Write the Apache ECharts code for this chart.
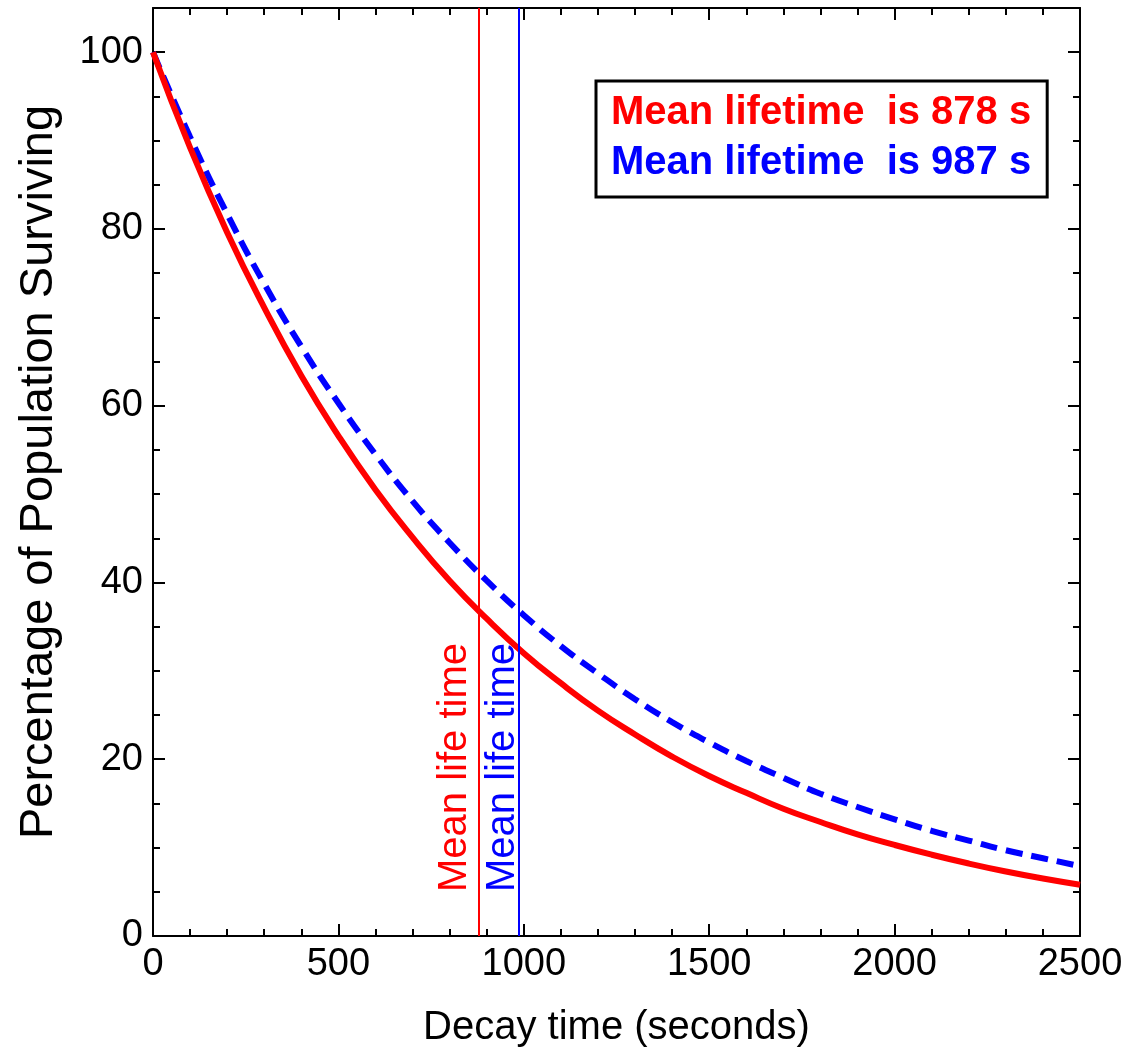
<!DOCTYPE html>
<html>
<head>
<meta charset="utf-8">
<script src="https://cdn.jsdelivr.net/npm/echarts@6/dist/echarts.min.js"></script>
<style>
  html, body { margin: 0; padding: 0; background: #fff; }
  #chart { width: 1131px; height: 1053px; }
</style>
</head>
<body>
<div id="chart"></div>
<script>
const times = [0, 100, 200, 300, 400, 500, 600, 700, 800, 900, 1000, 1100, 1200,
    1300, 1400, 1500, 1600, 1700, 1800, 1900, 2000, 2100, 2200, 2300, 2400, 2500];

// percentage surviving, red curve (mean lifetime 878 s)
const redSurviving = [100, 89.2, 79.6, 71.1, 63.4, 56.6, 50.5, 45.1, 40.2, 35.9, 32.0, 28.6, 25.5,
    22.8, 20.3, 18.1, 16.2, 14.4, 12.9, 11.5, 10.3, 9.2, 8.2, 7.3, 6.5, 5.8];

// percentage surviving, blue dashed curve (mean lifetime 987 s)
const blueSurviving = [100, 90.4, 81.7, 73.8, 66.7, 60.3, 54.5, 49.2, 44.5, 40.2, 36.3, 32.8, 29.7,
    26.8, 24.2, 21.9, 19.8, 17.9, 16.1, 14.6, 13.2, 11.9, 10.8, 9.7, 8.8, 7.9];

const redLifetime = 878;
const blueLifetime = 987;
const redName = 'Mean lifetime  is 878 s';
const blueName = 'Mean lifetime  is 987 s';

const fontFamily = '"Liberation Sans", Arial, Helvetica, sans-serif';
const RED = '#ff0000';
const BLUE = '#0000ff';

function pairs(xs, ys) {
    return xs.map((x, i) => [x, ys[i]]);
}

const chart = echarts.init(document.getElementById('chart'));

const frameAxis = {
    axisLine: { show: true, onZero: false, lineStyle: { color: '#000', width: 2 } },
    splitLine: { show: false }
};

const option = {
    animation: false,
    backgroundColor: '#fff',
    textStyle: { fontFamily: fontFamily },
    grid: { left: 153, right: 51, top: 8, bottom: 116 },
    legend: {
        left: 596,
        top: 81,
        orient: 'vertical',
        icon: 'none',
        itemWidth: 0,
        itemHeight: 36,
        itemGap: 10,
        padding: [12, 16, 14, 10],
        borderColor: '#000',
        borderWidth: 3,
        backgroundColor: '#fff',
        selectedMode: false,
        textStyle: { fontSize: 40, fontWeight: 'bold', fontFamily: fontFamily },
        data: [
            { name: redName, textStyle: { color: RED } },
            { name: blueName, textStyle: { color: BLUE } }
        ]
    },
    xAxis: [{
        type: 'value',
        min: 0,
        max: 2500,
        interval: 500,
        name: 'Decay time (seconds)',
        nameLocation: 'middle',
        nameGap: 72,
        nameTextStyle: { fontSize: 40, color: '#000' },
        axisLabel: { fontSize: 38, color: '#000', margin: 10, formatter: v => String(v) },
        axisTick: { inside: true, length: 12, lineStyle: { color: '#000', width: 2 } },
        minorTick: { show: true, splitNumber: 5, length: 7, lineStyle: { color: '#000', width: 2 } },
        ...frameAxis
    }, {
        type: 'value',
        position: 'top',
        min: 0,
        max: 2500,
        interval: 500,
        axisLabel: { show: false },
        axisTick: { inside: true, length: 12, lineStyle: { color: '#000', width: 2 } },
        minorTick: { show: true, splitNumber: 5, length: 7, lineStyle: { color: '#000', width: 2 } },
        ...frameAxis
    }],
    yAxis: [{
        type: 'value',
        min: 0,
        max: 105,
        interval: 20,
        name: 'Percentage of Population Surviving',
        nameLocation: 'middle',
        nameGap: 90,
        nameTextStyle: { fontSize: 47, color: '#000' },
        axisLabel: { fontSize: 38, color: '#000', margin: 10, showMaxLabel: false, formatter: v => String(v) },
        axisTick: { inside: true, length: 12, lineStyle: { color: '#000', width: 2 } },
        minorTick: { show: true, splitNumber: 4, length: 7, lineStyle: { color: '#000', width: 2 } },
        ...frameAxis
    }, {
        type: 'value',
        position: 'right',
        min: 0,
        max: 105,
        interval: 20,
        axisLabel: { show: false },
        axisTick: { inside: true, length: 12, lineStyle: { color: '#000', width: 2 } },
        minorTick: { show: true, splitNumber: 4, length: 7, lineStyle: { color: '#000', width: 2 } },
        ...frameAxis
    }],
    series: [{
        name: redName,
        type: 'line',
        xAxisIndex: 0,
        yAxisIndex: 0,
        data: pairs(times, redSurviving),
        smooth: true,
        showSymbol: false,
        symbol: 'none',
        z: 3,
        lineStyle: { color: RED, width: 6 },
        itemStyle: { color: RED },
        markLine: {
            silent: true,
            symbol: 'none',
            lineStyle: { color: RED, width: 2, type: 'solid' },
            label: {
                show: true,
                position: 'insideStartTop',
                formatter: 'Mean life time',
                color: RED,
                fontSize: 40,
                fontFamily: fontFamily,
                distance: [44, 4]
            },
            data: [{ xAxis: redLifetime }]
        }
    }, {
        name: blueName,
        type: 'line',
        xAxisIndex: 0,
        yAxisIndex: 0,
        data: pairs(times, blueSurviving),
        smooth: true,
        showSymbol: false,
        symbol: 'none',
        z: 2,
        lineStyle: { color: BLUE, width: 6, type: [17, 9] },
        itemStyle: { color: BLUE },
        markLine: {
            silent: true,
            symbol: 'none',
            lineStyle: { color: BLUE, width: 2, type: 'solid' },
            label: {
                show: true,
                position: 'insideStartTop',
                formatter: 'Mean life time',
                color: BLUE,
                fontSize: 40,
                fontFamily: fontFamily,
                distance: [44, -4]
            },
            data: [{ xAxis: blueLifetime }]
        }
    }]
};

chart.setOption(option);
</script>
</body>
</html>
